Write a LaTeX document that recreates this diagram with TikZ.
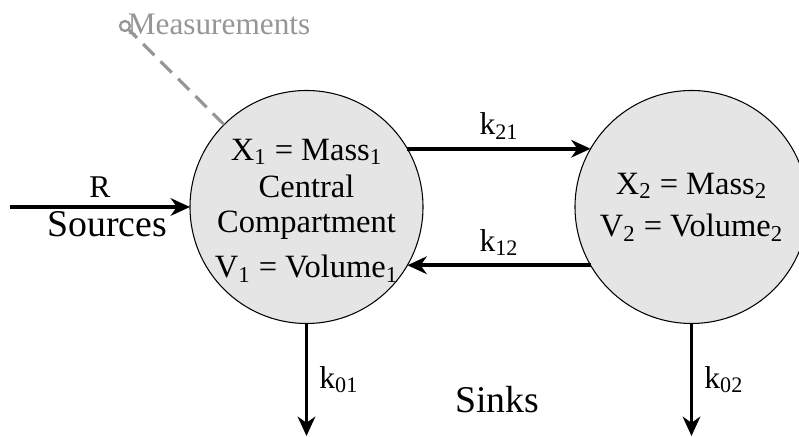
\documentclass[tikz,border=0pt]{standalone}
\usepackage{fontspec}
\setmainfont{Liberation Serif}
\usetikzlibrary{arrows.meta, positioning}
\definecolor{compgray}{RGB}{229,229,229}
\definecolor{measgray}{RGB}{150,150,150}

\begin{document}
\begin{tikzpicture}[
  comp/.style={draw, circle, fill=compgray, line width=0.6pt, minimum size=4.66cm, inner sep=0pt, outer sep=0pt},
  comptext/.style={align=center, inner sep=0pt, font=\fontsize{18.5}{22}\selectfont},
  flow/.style={-{Stealth[length=11pt, width=10pt, inset=3.5pt]}, line width=2pt},
  lbl/.style={font=\fontsize{18}{20}\selectfont},
  big/.style={font=\fontsize{21.5}{24}\selectfont}
]
\useasboundingbox (0,0) rectangle (15.98,8.74);

% Compartments
\node[comp] (c1) at (6.13,4.60) {};
\node[comp, right=3.04cm of c1] (c2) {};
\node[comptext, yshift=-2pt] (c1txt) at (c1) {X\textsubscript{1} = Mass\textsubscript{1}\\[-0.5pt]Central\\[-2pt]Compartment\\[3.5pt]V\textsubscript{1} = Volume\textsubscript{1}};
\node[comptext] (c2txt) at (c2) {X\textsubscript{2} = Mass\textsubscript{2}\\[2pt]V\textsubscript{2} = Volume\textsubscript{2}};

% Free ends
\coordinate (src) at (0.20,4.60);
\coordinate (sink1) at (c1.south |- 0,0.02);
\coordinate (sink2) at (c2.south |- 0,0.02);

% Measurements
\node[draw=measgray, circle, line width=1.3pt, minimum size=0.2cm, inner sep=0pt] (meas) at (2.50,8.22) {};
\node[text=measgray, anchor=base west, inner sep=0pt, font=\fontsize{17.8}{20}\selectfont] (meastxt) at (2.55,8.04) {Measurements};
\draw[measgray, line width=1.8pt, dash pattern=on 9pt off 5pt] (c1.135) -- (meas);

\draw[flow] (src) -- node[lbl, above=1pt]{R} node[big, below=-2pt, xshift=4pt]{Sources} (c1.west);
\draw[flow] (c1.30) -- node[lbl, above=1pt]{k\textsubscript{21}} (c2.150);
\draw[flow] (c2.210) -- node[lbl, above=1pt]{k\textsubscript{12}} (c1.-30);
\draw[flow] (c1.south) -- node[lbl, right=3pt]{k\textsubscript{01}} (sink1);
\draw[flow] (c2.south) -- node[lbl, right=3pt]{k\textsubscript{02}} (sink2);

\node[big] (sinks) at (9.94,0.74) {Sinks};

\end{tikzpicture}
\end{document}
